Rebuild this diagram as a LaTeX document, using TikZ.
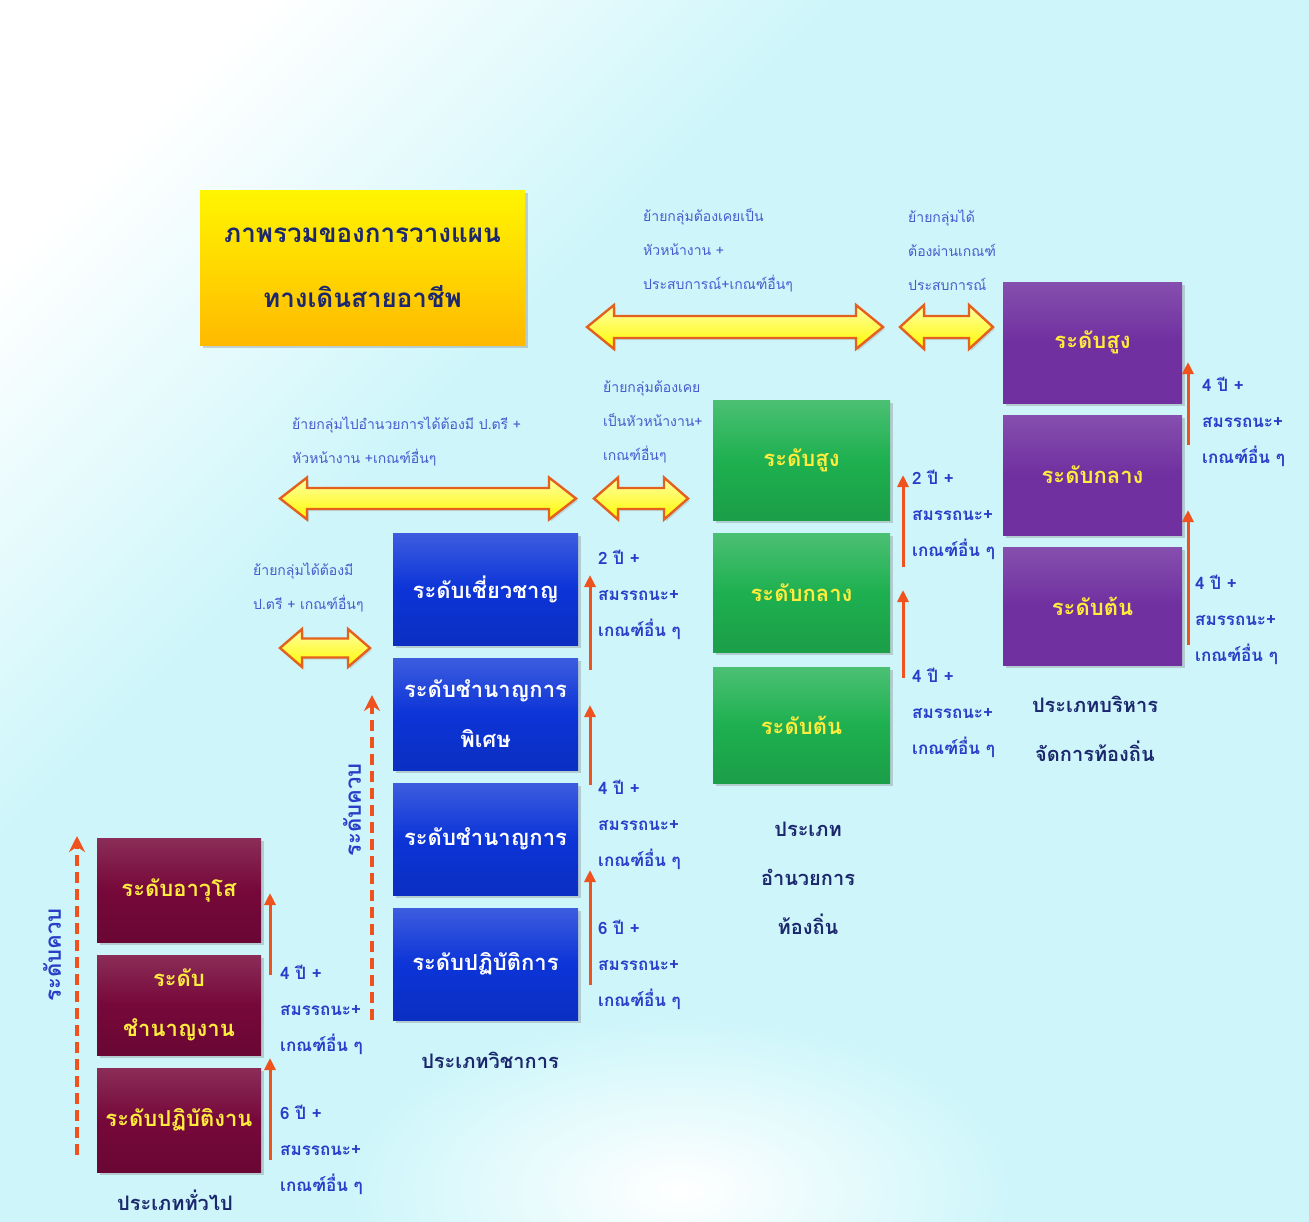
\documentclass[tikz,border=0pt]{standalone}
\usepackage{fontspec}
\newfontfamily\thai[Script=Thai]{Loma}
\usetikzlibrary{shadows,arrows.meta}
\definecolor{bgc}{RGB}{206,246,250}
\definecolor{purp}{RGB}{112,48,160}
\definecolor{grn}{RGB}{30,176,80}
\definecolor{blu}{RGB}{12,52,215}
\definecolor{mar}{RGB}{118,8,58}
\definecolor{gold}{RGB}{255,192,0}
\definecolor{txty}{RGB}{255,236,60}
\definecolor{lblue}{RGB}{40,62,200}
\definecolor{navy}{RGB}{28,40,110}
\definecolor{arr}{RGB}{240,82,30}
\definecolor{aout}{RGB}{228,96,30}
\pgfdeclarehorizontalshading{bgband}{100bp}{color(0bp)=(bgc!75!white); color(7bp)=(white); color(22bp)=(white); color(38bp)=(bgc); color(100bp)=(bgc)}
% #1 left x, #2 right x, #3 centre y, #4 half height, #5 head length
\newcommand\dblarrow[5]{%
  \path[dbl] (#1,#3) -- ({#1+#5},{#3-#4}) -- ({#1+#5},{#3-0.5*#4}) -- ({#2-#5},{#3-0.5*#4})
    -- ({#2-#5},{#3-#4}) -- (#2,#3) -- ({#2-#5},{#3+#4}) -- ({#2-#5},{#3+0.5*#4})
    -- ({#1+#5},{#3+0.5*#4}) -- ({#1+#5},{#3+#4}) -- cycle;}
\begin{document}
\begin{tikzpicture}[x=1pt,y=-1pt,
  lvl/.style={draw=none, inner sep=2pt, align=center,
    font=\thai\bfseries\fontsize{22}{50}\selectfont,
    drop shadow={opacity=0.35, shadow xshift=3pt, shadow yshift=-3pt}},
  purpbox/.style={lvl, top color=purp!85!white, bottom color=purp, middle color=purp, text=txty, minimum width=179pt},
  grnbox/.style={lvl, top color=grn!80!white, bottom color=grn!90!black, middle color=grn, text=txty, minimum width=177pt},
  blubox/.style={lvl, top color=blu!80!white, bottom color=blu!90!black, middle color=blu, text=white, minimum width=185pt},
  marbox/.style={lvl, top color=mar!85!white, bottom color=mar!90!black, middle color=mar, text=txty, minimum width=164pt},
  dbl/.style={draw=aout, line width=2.4pt, line join=miter,
    top color=yellow!35!white, bottom color=yellow!95!orange,
    drop shadow={opacity=0.25, shadow xshift=2pt, shadow yshift=-2pt}},
  tlabel/.style={anchor=west, inner sep=0pt, align=left, text=lblue!85!white,
    font=\thai\fontsize{14}{34}\selectfont},
  slabel/.style={anchor=west, inner sep=0pt, align=left, text=lblue,
    font=\thai\bfseries\fontsize{17}{36}\selectfont},
  clabel/.style={inner sep=0pt, align=center, text=navy,
    font=\thai\bfseries\fontsize{20}{49}\selectfont},
  rlabel/.style={inner sep=0pt, rotate=90, text=lblue, font=\thai\bfseries\fontsize{22}{26}\selectfont},
  stepar/.style={draw=arr, line width=3pt, -{Triangle[length=12pt,width=11pt]}},
  dashar/.style={draw=arr, line width=4pt, dash pattern=on 11pt off 6pt, -{Stealth[length=16pt,width=16pt]}}
]
\useasboundingbox (0,0) rectangle (1309,1221);
\shade[shading=bgband, shading angle=-45] (0,0) rectangle (1309,1221);
\begin{scope}
\clip (0,0) rectangle (1309,1221);
\shade[inner color=white, outer color=bgc] (680,1190) ellipse (330pt and 170pt);
\end{scope}

% title
\node[draw=none, top color=yellow!85!gold, bottom color=gold!90!orange, minimum width=325pt, minimum height=155pt,
  align=center, text=navy, font=\thai\bfseries\fontsize{26}{65}\selectfont,
  drop shadow={opacity=0.35, shadow xshift=3pt, shadow yshift=-3pt}]
  (title) at (362.5,267.5) {ภาพรวมของการวางแผน\\ทางเดินสายอาชีพ};

% management boxes
\node[purpbox, minimum height=121pt] (p1) at (1092.5,342.5) {ระดับสูง};
\node[purpbox, minimum height=120pt] (p2) at (1092.5,475) {ระดับกลาง};
\node[purpbox, minimum height=118pt] (p3) at (1092.5,606) {ระดับต้น};
\node[clabel] (pcat) at (1095,728.5) {ประเภทบริหาร\\จัดการท้องถิ่น};

% directorial boxes
\node[grnbox, minimum height=120pt] (g1) at (801.5,460) {ระดับสูง};
\node[grnbox, minimum height=119pt] (g2) at (801.5,592.5) {ระดับกลาง};
\node[grnbox, minimum height=116pt] (g3) at (801.5,725) {ระดับต้น};
\node[clabel] (gcat) at (808,878) {ประเภท\\อำนวยการ\\ท้องถิ่น};

% academic boxes
\node[blubox, minimum height=112pt] (b1) at (485.5,589) {ระดับเชี่ยวชาญ};
\node[blubox, minimum height=112pt] (b2) at (485.5,714) {ระดับชำนาญการ\\พิเศษ};
\node[blubox, minimum height=112pt] (b3) at (485.5,839) {ระดับชำนาญการ};
\node[blubox, minimum height=112pt] (b4) at (485.5,964) {ระดับปฏิบัติการ};
\node[clabel] (bcat) at (490,1060) {ประเภทวิชาการ};

% general boxes
\node[marbox, minimum height=104pt] (m1) at (179,890) {ระดับอาวุโส};
\node[marbox, minimum height=100pt] (m2) at (179,1005) {ระดับ\\ชำนาญงาน};
\node[marbox, minimum height=104pt] (m3) at (179,1120) {ระดับปฏิบัติงาน};
\node[clabel] (mcat) at (175,1200) {ประเภททั่วไป};

% transfer double arrows and their labels
\dblarrow{587}{883}{327}{22}{27}
\dblarrow{900}{993}{327}{22}{24}
\dblarrow{280}{576}{498.5}{21}{27}
\dblarrow{594}{688}{498.5}{21}{24}
\dblarrow{280}{370}{648}{19}{22}
\node[tlabel] (t1) at (643,250) {ย้ายกลุ่มต้องเคยเป็น\\หัวหน้างาน +\\ประสบการณ์+เกณฑ์อื่นๆ};
\node[tlabel] (t2) at (908,250) {ย้ายกลุ่มได้\\ต้องผ่านเกณฑ์\\ประสบการณ์};
\node[tlabel] (t3) at (292,441.5) {ย้ายกลุ่มไปอำนวยการได้ต้องมี ป.ตรี +\\หัวหน้างาน +เกณฑ์อื่นๆ};
\node[tlabel] (t4) at (603,422) {ย้ายกลุ่มต้องเคย\\เป็นหัวหน้างาน+\\เกณฑ์อื่นๆ};
\node[tlabel] (t5) at (253,587) {ย้ายกลุ่มได้ต้องมี\\ป.ตรี + เกณฑ์อื่นๆ};

% step arrows
\coordinate (gs1) at (270,1160); \coordinate (ge1) at (270,1058);
\coordinate (gs2) at (270,975);  \coordinate (ge2) at (270,893);
\coordinate (as1) at (590,985);  \coordinate (ae1) at (590,870);
\coordinate (as2) at (590,785);  \coordinate (ae2) at (590,705);
\coordinate (as3) at (590,670);  \coordinate (ae3) at (590,575);
\coordinate (ds1) at (903,678);  \coordinate (de1) at (903,590);
\coordinate (ds2) at (903,567);  \coordinate (de2) at (903,475);
\coordinate (ms1) at (1188,645); \coordinate (me1) at (1188,510);
\coordinate (ms2) at (1188,445); \coordinate (me2) at (1188,362);
\draw[stepar] (gs1) -- (ge1);
\draw[stepar] (gs2) -- (ge2);
\draw[stepar] (as1) -- (ae1);
\draw[stepar] (as2) -- (ae2);
\draw[stepar] (as3) -- (ae3);
\draw[stepar] (ds1) -- (de1);
\draw[stepar] (ds2) -- (de2);
\draw[stepar] (ms1) -- (me1);
\draw[stepar] (ms2) -- (me2);

% step labels
\node[slabel] (sg1) at (280,1150) {6 ปี +\\สมรรถนะ+\\เกณฑ์อื่น ๆ};
\node[slabel] (sg2) at (280,1010) {4 ปี +\\สมรรถนะ+\\เกณฑ์อื่น ๆ};
\node[slabel] (sa1) at (598,965) {6 ปี +\\สมรรถนะ+\\เกณฑ์อื่น ๆ};
\node[slabel] (sa2) at (598,825) {4 ปี +\\สมรรถนะ+\\เกณฑ์อื่น ๆ};
\node[slabel] (sa3) at (598,595) {2 ปี +\\สมรรถนะ+\\เกณฑ์อื่น ๆ};
\node[slabel] (sd1) at (912,713) {4 ปี +\\สมรรถนะ+\\เกณฑ์อื่น ๆ};
\node[slabel] (sd2) at (912,515) {2 ปี +\\สมรรถนะ+\\เกณฑ์อื่น ๆ};
\node[slabel] (sm1) at (1195,620) {4 ปี +\\สมรรถนะ+\\เกณฑ์อื่น ๆ};
\node[slabel] (sm2) at (1202,422) {4 ปี +\\สมรรถนะ+\\เกณฑ์อื่น ๆ};

% combined-level dashed arrows
\coordinate (q1s) at (77,1155);  \coordinate (q1e) at (77,836);
\coordinate (q2s) at (372,1020); \coordinate (q2e) at (372,695);
\draw[dashar] (q1s) -- (q1e);
\draw[dashar] (q2s) -- (q2e);
\node[rlabel] (r1) at (52,955) {ระดับควบ};
\node[rlabel] (r2) at (352,810) {ระดับควบ};
\end{tikzpicture}
\end{document}
